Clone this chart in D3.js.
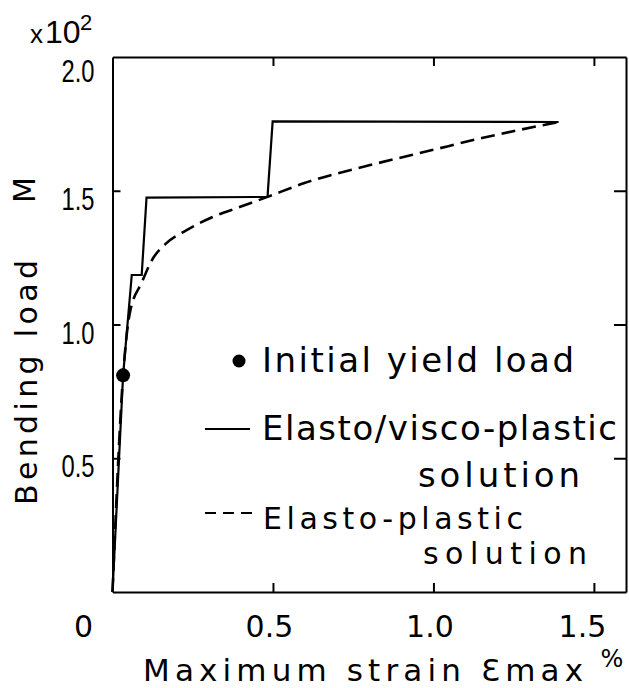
<!DOCTYPE html>
<html>
<head>
<meta charset="utf-8">
<script src="https://cdn.jsdelivr.net/npm/d3@7"></script>
<style>
  html, body { margin: 0; padding: 0; background: #fff; }
  svg { display: block; }
  .axis path, .axis line { stroke: #000; stroke-width: 2; }
</style>
</head>
<body>
<script>
// Bending load M (x10^2) against maximum strain (percent)
const xTicks = [0.5, 1.0, 1.5];
const xTickLabels = ["0.5", "1.0", "1.5"];
const yTicks = [0.5, 1.0, 1.5, 2.0];
const yTickLabels = ["0.5", "1.0", "1.5", "2.0"];

// Elasto/visco-plastic solution (stepped)
const viscoStrain = [0, 0.033, 0.060, 0.091, 0.106, 0.483, 0.499, 1.390];
const viscoLoad   = [0, 0.81, 1.185, 1.185, 1.474, 1.477, 1.759, 1.757];

// Elasto-plastic solution (smooth)
const plasticStrain = [0, 0.033, 0.054, 0.092, 0.123, 0.169, 0.231, 0.312, 0.396, 0.483, 0.598, 0.800, 0.996, 1.151, 1.390];
const plasticLoad   = [0, 0.81, 1.043, 1.159, 1.241, 1.305, 1.353, 1.402, 1.439, 1.477, 1.529, 1.595, 1.652, 1.697, 1.757];

// Initial yield load
const yieldStrain = [0.033];
const yieldLoad = [0.81];

const W = 629, H = 688;
const svg = d3.select("body").append("svg").attr("width", W).attr("height", H);

const x = d3.scaleLinear().domain([0, 1.6]).range([112.5, 626]);
const y = d3.scaleLinear().domain([0, 2.0]).range([592, 57]);

const FONT = "'DejaVu Sans', sans-serif";
const YFONT = "'Liberation Sans', Arial, sans-serif";

// Axes: frame edges with inward ticks
const axBottom = svg.append("g").attr("class", "axis").attr("transform", `translate(0,${y(0)})`)
  .call(d3.axisBottom(x).tickValues(xTicks).tickSizeInner(-9).tickSizeOuter(0).tickPadding(24)
        .tickFormat((d, i) => xTickLabels[i]));
axBottom.selectAll("text").attr("font-family", FONT).attr("font-size", 30).attr("fill", "#000")
  .attr("dx", (d, i) => i === 2 ? -12 : -4);

svg.append("g").attr("class", "axis").attr("transform", `translate(0,${y(2)})`)
  .call(d3.axisTop(x).tickValues(xTicks).tickSizeInner(-9).tickSizeOuter(0).tickFormat(""));

const axLeft = svg.append("g").attr("class", "axis").attr("transform", `translate(${x(0)},0)`)
  .call(d3.axisLeft(y).tickValues(yTicks).tickSizeInner(-8).tickSizeOuter(0).tickPadding(18)
        .tickFormat((d, i) => yTickLabels[i]));
axLeft.selectAll("text").attr("font-family", YFONT).attr("font-size", 31).attr("fill", "#000")
  .attr("dy", (d) => d === 2.0 ? "0.8em" : "0.6em")
  .attr("textLength", 33).attr("lengthAdjust", "spacingAndGlyphs");
axLeft.selectAll(".tick").filter(d => d === 2.0).select("line").remove();

svg.append("g").attr("class", "axis").attr("transform", `translate(${x(1.6)},0)`)
  .call(d3.axisRight(y).tickValues([0.5, 1.0, 1.5]).tickSizeInner(-12).tickSizeOuter(0).tickFormat(""));

svg.selectAll(".axis path").attr("fill", "none");

// Origin label
svg.append("text").attr("x", x(0) - 29).attr("y", 637).attr("text-anchor", "middle")
  .attr("font-family", FONT).attr("font-size", 30).text("0");

// Scale multiplier
const mult = svg.append("text").attr("x", 30).attr("y", 43).attr("font-family", YFONT).attr("font-size", 32);
mult.append("tspan").attr("font-size", 26).text("x");
mult.append("tspan").attr("dx", 2).text("10");
svg.append("text").attr("x", 80).attr("y", 30).attr("font-family", YFONT).attr("font-size", 22).text("2");

// Axis titles
svg.append("text").attr("transform", "translate(37,505) rotate(-90)")
  .attr("font-family", FONT).attr("font-size", 30)
  .attr("textLength", 245).attr("lengthAdjust", "spacing").text("Bending load");
svg.append("text").attr("transform", "translate(35,203) rotate(-90)")
  .attr("font-family", FONT).attr("font-size", 30).text("M");

svg.append("text").attr("x", 143).attr("y", 681)
  .attr("font-family", FONT).attr("font-size", 31)
  .attr("textLength", 440).attr("lengthAdjust", "spacing")
  .text("Maximum strain \u0190max");
svg.append("text").attr("x", 612).attr("y", 667).attr("text-anchor", "middle")
  .attr("font-family", FONT).attr("font-size", 24).text("%");

// Curves
const viscoData = viscoStrain.map((s, i) => [s, viscoLoad[i]]);
const plasticData = plasticStrain.map((s, i) => [s, plasticLoad[i]]);

svg.append("path").datum(plasticData)
  .attr("d", d3.line().x(d => x(d[0])).y(d => y(d[1])).curve(d3.curveMonotoneX))
  .attr("fill", "none").attr("stroke", "#000").attr("stroke-width", 2.6)
  .attr("stroke-dasharray", "14,7");

svg.append("path").datum(viscoData)
  .attr("d", d3.line().x(d => x(d[0])).y(d => y(d[1])))
  .attr("fill", "none").attr("stroke", "#000").attr("stroke-width", 2.2)
  .attr("stroke-linejoin", "miter");

svg.selectAll("circle.yield").data(yieldStrain).enter().append("circle")
  .attr("class", "yield")
  .attr("cx", d => x(d)).attr("cy", (d, i) => y(yieldLoad[i])).attr("r", 7).attr("fill", "#000");

// Legend
const lg = svg.append("g").attr("font-family", FONT).attr("font-size", 34).attr("fill", "#000");
lg.append("circle").attr("cx", 239).attr("cy", 361).attr("r", 6.5).attr("fill", "#000");
lg.append("text").attr("x", 262).attr("y", 372).attr("textLength", 312).attr("lengthAdjust", "spacing")
  .text("Initial yield load");

lg.append("line").attr("x1", 205).attr("x2", 250).attr("y1", 429).attr("y2", 429)
  .attr("stroke", "#000").attr("stroke-width", 1.8);
lg.append("text").attr("x", 262).attr("y", 440).attr("textLength", 355).attr("lengthAdjust", "spacing")
  .text("Elasto/visco-plastic");
lg.append("text").attr("x", 418).attr("y", 487).attr("textLength", 162).attr("lengthAdjust", "spacing")
  .text("solution");

lg.append("line").attr("x1", 205).attr("x2", 252).attr("y1", 513).attr("y2", 513)
  .attr("stroke", "#000").attr("stroke-width", 2).attr("stroke-dasharray", "11,7");
lg.append("text").attr("x", 263).attr("y", 529).attr("font-size", 30)
  .attr("textLength", 260).attr("lengthAdjust", "spacing").text("Elasto-plastic");
lg.append("text").attr("x", 423).attr("y", 564).attr("font-size", 30)
  .attr("textLength", 164).attr("lengthAdjust", "spacing").text("solution");
</script>
</body>
</html>
